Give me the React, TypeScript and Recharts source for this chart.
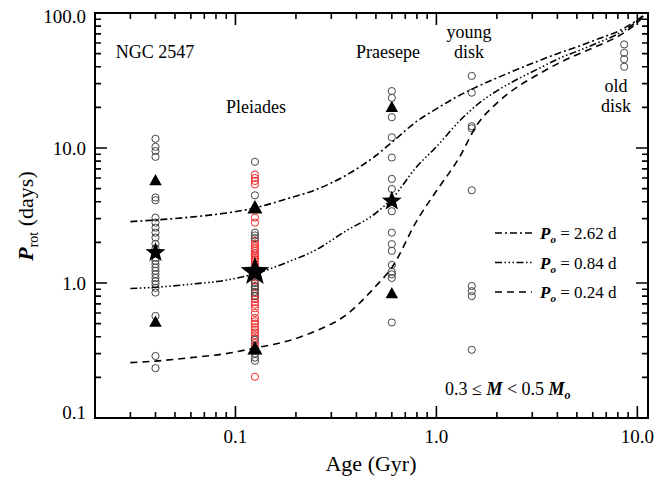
import React from 'react'
import { ComposedChart, Scatter, XAxis, YAxis } from 'recharts'

const W = 670
const H = 489
const FONT = '"Liberation Serif", "DejaVu Serif", serif'

// cluster ages (Gyr)
const ngcAge = 0.04
const pleiadesAge = 0.125
const praesepeAge = 0.6
const youngDiskAge = 1.5
const oldDiskAge = 8.6

// rotation periods (days), open circles
const ngcP = [11.7, 10.2, 9.5, 8.6, 4.3, 4.1, 3.05, 2.8, 2.57, 2.36, 2.17, 1.95, 1.8, 1.54, 1.46, 1.38, 1.3, 1.23, 1.16, 1.09, 1.03, 0.98, 0.92, 0.85, 0.57, 0.288, 0.234]
const pleiadesP = [7.9, 4.46, 2.36, 2.25, 2.15, 1.0, 0.95, 0.9, 0.86, 0.8, 0.38, 0.3, 0.28, 0.265]
const pleiadesRedP = [6.36, 5.99, 5.7, 5.38, 3.05, 2.8, 2.05, 1.95, 1.88, 1.8, 1.73, 1.66, 1.6, 1.55, 1.5, 1.45, 1.38, 1.32, 1.27, 1.15, 1.1, 1.05, 0.93, 0.84, 0.8, 0.76, 0.72, 0.69, 0.65, 0.6, 0.55, 0.52, 0.5, 0.47, 0.45, 0.43, 0.41, 0.39, 0.36, 0.34, 0.32, 0.202]
const praesepeP = [26.4, 23.5, 16.9, 12.0, 8.5, 5.9, 4.97, 3.4, 2.36, 1.94, 1.73, 1.36, 1.21, 1.16, 1.09, 0.51]
const youngDiskP = [34.2, 25.7, 14.5, 14.0, 4.86, 0.95, 0.87, 0.8, 0.32]
const oldDiskP = [58.5, 50.7, 45.5, 40]

// medians (stars) and 10/90 percentiles (triangles)
const medianAges = [ngcAge, pleiadesAge, praesepeAge]
const medianP = [1.68, 1.21, 4.05]
const pctAges = [ngcAge, ngcAge, pleiadesAge, pleiadesAge, praesepeAge, praesepeAge]
const pctP = [5.7, 0.51, 3.57, 0.323, 19.9, 0.83]

// spin-down tracks
const trackAges = [0.03, 0.04, 0.06, 0.09, 0.125, 0.18, 0.25, 0.35, 0.5, 0.6, 0.8, 1.0, 1.3, 1.6, 2.0, 2.5, 3.2, 4.0, 5.0, 6.5, 8.0, 10.0, 10.8]
const track262 = [2.85, 2.93, 3.08, 3.3, 3.6, 4.2, 4.9, 6.2, 8.8, 11.0, 15.8, 19.5, 24.5, 28.5, 33, 38, 44, 50, 56, 65, 73, 89, 97]
const track084 = [0.91, 0.93, 0.98, 1.05, 1.17, 1.42, 1.75, 2.4, 3.3, 4.2, 7.3, 10.2, 15.8, 21, 26.5, 32, 38.5, 45.5, 52, 61, 70, 87, 96]
const track024 = [0.257, 0.264, 0.28, 0.3, 0.33, 0.37, 0.44, 0.57, 0.95, 1.3, 2.9, 4.8, 8.5, 15, 21.5, 28, 35, 42, 49, 58, 67, 85, 95]
const trackNames = ['2.62', '0.84', '0.24']

// axes
const xDomain = [0.02, 11.3]
const yDomain = [0.1, 100]
const xTicks = [0.03, 0.04, 0.05, 0.06, 0.07, 0.08, 0.09, 0.1, 0.2, 0.3, 0.4, 0.5, 0.6, 0.7, 0.8, 0.9, 1, 2, 3, 4, 5, 6, 7, 8, 9, 10]
const yTicks = [0.1, 0.2, 0.3, 0.4, 0.5, 0.6, 0.7, 0.8, 0.9, 1, 2, 3, 4, 5, 6, 7, 8, 9, 10, 20, 30, 40, 50, 60, 70, 80, 90, 100]

// plot box = chart margins + axis sizes
const M = { top: 13, right: 22, bottom: 0, left: 0 }
const X_AXIS_H = 71
const Y_AXIS_W = 95
const box = { l: M.left + Y_AXIS_W, r: W - M.right, t: M.top, b: H - M.bottom - X_AXIS_H }
const logPos = (v: number, d: number[], a: number, b: number) =>
  a + ((Math.log10(v) - Math.log10(d[0])) / (Math.log10(d[1]) - Math.log10(d[0]))) * (b - a)

const pts = (age: number, ps: number[]) => ps.map(p => ({ age, p }))
const grayPts = [
  ...pts(ngcAge, ngcP), ...pts(pleiadesAge, pleiadesP), ...pts(praesepeAge, praesepeP),
  ...pts(youngDiskAge, youngDiskP), ...pts(oldDiskAge, oldDiskP),
]
const redPts = pts(pleiadesAge, pleiadesRedP)
const medianPts = medianAges.map((age, i) => ({ age, p: medianP[i] }))
const pctPts = pctAges.map((age, i) => ({ age, p: pctP[i] }))
const tracks = [track262, track084, track024].map(t => trackAges.map((age, i) => ({ age, p: t[i] })))
const dashes = ['7 3 2 3', '7 2.5 1.5 2.5 1.5 2.5 1.5 2.5', '7 5']

const isMajor = (v: number) => Math.abs(Math.log10(v) - Math.round(Math.log10(v))) < 1e-6
const fmt = (v: number) => (v >= 1 ? v.toFixed(1) : String(v))

// frame outline and inward ticks on all four sides, as two paths
const frameD = `M${box.l},${box.t}H${box.r}V${box.b}H${box.l}Z`
const tickD = [
  ...xTicks.map(v => {
    const x = logPos(v, xDomain, box.l, box.r).toFixed(2)
    const len = isMajor(v) ? 12 : 6
    return `M${x},${box.b}v${-len}M${x},${box.t}v${len}`
  }),
  ...yTicks.filter(v => v > yDomain[0] && v < yDomain[1]).map(v => {
    const y = logPos(v, yDomain, box.b, box.t).toFixed(2)
    const len = isMajor(v) ? 12 : 6
    return `M${box.l},${y}h${len}M${box.r},${y}h${-len}`
  }),
].join('')

function BottomLabel(props: any) {
  const v = props.payload.value
  if (!isMajor(v)) return <g />
  return <text x={Number(props.x)} y={Number(props.y) + 25} textAnchor="middle" fontFamily={FONT} fontSize={19} fill="#000">{fmt(v)}</text>
}

function LeftLabel(props: any) {
  const v = props.payload.value
  if (!isMajor(v)) return <g />
  const nudge = v === 0.1 ? -6 : v === 100 ? 3 : 0
  return <text x={Number(props.x) - 9} y={Number(props.y) + 6.5 + nudge} textAnchor="end" fontFamily={FONT} fontSize={19} fill="#000">{fmt(v)}</text>
}

const grayCircle = (props: any) => (
  <circle cx={props.cx} cy={props.cy} r={3.6} fill="none" stroke="#444" strokeWidth={1} />
)
const redCircle = (props: any) => (
  <circle cx={props.cx} cy={props.cy} r={3.6} fill="none" stroke="#f02828" strokeWidth={1} />
)
const noShape = () => <g />

function StarShape({ cx, cy, payload }: any) {
  const R = payload.age === pleiadesAge ? 15 : 10.5
  const r = R * 0.42
  const p: string[] = []
  for (let i = 0; i < 10; i++) {
    const a = -Math.PI / 2 + (i * Math.PI) / 5
    const rad = i % 2 === 0 ? R : r
    p.push(`${cx + rad * Math.cos(a)},${cy + rad * Math.sin(a)}`)
  }
  return <polygon points={p.join(' ')} fill="#000" />
}

function TriShape({ cx, cy, payload }: any) {
  const s = payload.age === pleiadesAge ? 15 : 12.5
  const h = s * 0.9
  return <polygon points={`${cx},${cy - h * 0.62} ${cx - s / 2},${cy + h * 0.38} ${cx + s / 2},${cy + h * 0.38}`} fill="#000" />
}

export default function App() {
  return (
    <div style={{ position: 'absolute', left: 0, top: 0, width: W, height: H, background: '#fff' }}>
      <ComposedChart width={W} height={H} margin={M}>
        <XAxis xAxisId="b" dataKey="age" type="number" scale="log" domain={xDomain} allowDataOverflow
          ticks={xTicks} interval={0} tick={(p: any) => <BottomLabel {...p} />} tickLine={false}
          tickSize={0} tickMargin={0} height={X_AXIS_H} axisLine={{ stroke: '#000', strokeWidth: 2 }} />
        <YAxis yAxisId="l" dataKey="p" type="number" scale="log" domain={yDomain} allowDataOverflow
          ticks={yTicks} interval={0} tick={(p: any) => <LeftLabel {...p} />} tickLine={false}
          tickSize={0} tickMargin={0} width={Y_AXIS_W} axisLine={{ stroke: '#000', strokeWidth: 2 }} />
        <Scatter xAxisId="b" yAxisId="l" data={redPts} shape={redCircle} isAnimationActive={false} />
        <Scatter xAxisId="b" yAxisId="l" data={grayPts} shape={grayCircle} isAnimationActive={false} />
        {tracks.map((t, i) => (
          <Scatter key={trackNames[i]} xAxisId="b" yAxisId="l" data={t} shape={noShape} lineJointType="monotoneX"
            line={{ stroke: '#000', strokeWidth: 1.6, strokeDasharray: dashes[i], fill: 'none' }} isAnimationActive={false} />
        ))}
        <Scatter xAxisId="b" yAxisId="l" data={pctPts} shape={TriShape} isAnimationActive={false} />
        <Scatter xAxisId="b" yAxisId="l" data={medianPts} shape={StarShape} isAnimationActive={false} />
      </ComposedChart>
      <svg width={W} height={H} style={{ position: 'absolute', left: 0, top: 0, pointerEvents: 'none' }}
        fontFamily={FONT}>
        <path d={frameD} fill="none" stroke="#000" strokeWidth={2} />
        <path d={tickD} fill="none" stroke="#000" strokeWidth={1.6} />
        <text fontSize={18} textAnchor="middle" x={155} y={58}>NGC 2547</text>
        <text fontSize={18} textAnchor="middle" x={256} y={113}>Pleiades</text>
        <text fontSize={18} textAnchor="middle" x={388} y={58}>Praesepe</text>
        <text fontSize={18} textAnchor="middle" x={469} y={38}>young</text>
        <text fontSize={18} textAnchor="middle" x={469} y={58}>disk</text>
        <text fontSize={18} textAnchor="middle" x={616} y={92}>old</text>
        <text fontSize={18} textAnchor="middle" x={616} y={112}>disk</text>
        {trackNames.map((name, i) => (
          <g key={name}>
            <line x1={495} x2={532} y1={233 + i * 29.5} y2={233 + i * 29.5} stroke="#000" strokeWidth={1.6} strokeDasharray={dashes[i]} />
            <text x={540} y={239 + i * 29.5} fontSize={17}>
              <tspan fontWeight="bold" fontStyle="italic">P</tspan>
              <tspan fontSize={11} fontWeight="bold" fontStyle="italic" dy={4}>o</tspan>
              <tspan dy={-4}> = {name} d</tspan>
            </text>
          </g>
        ))}
        <text fontSize={18} x={445} y={395}>
          0.3 ≤ <tspan fontWeight="bold" fontStyle="italic">M</tspan> &lt; 0.5 <tspan fontWeight="bold" fontStyle="italic">M</tspan>
          <tspan fontSize={12} fontWeight="bold" fontStyle="italic" dy={4}>o</tspan>
        </text>
        <text fontSize={22} textAnchor="middle" x={371} y={471}>Age (Gyr)</text>
        <text fontSize={22} textAnchor="middle" transform="translate(33,216) rotate(-90)">
          <tspan fontWeight="bold" fontStyle="italic">P</tspan>
          <tspan fontSize={14} dy={5}>rot</tspan>
          <tspan dy={-5}> (days)</tspan>
        </text>
      </svg>
    </div>
  )
}
